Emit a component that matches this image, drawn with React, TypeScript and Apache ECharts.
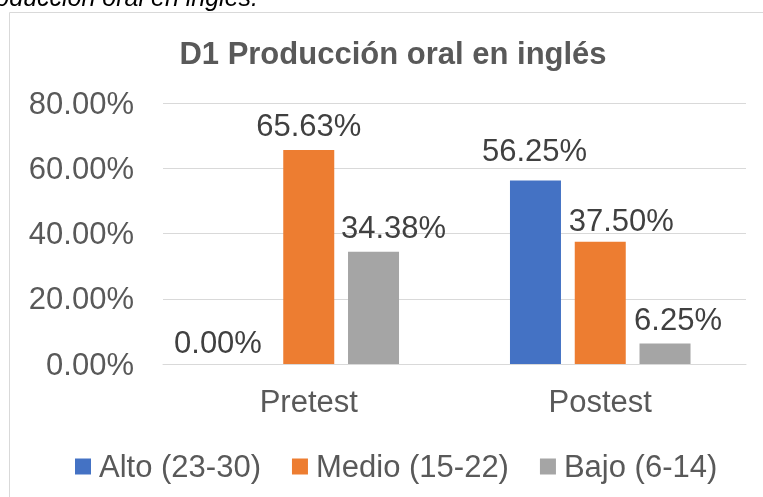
import React, { useEffect, useRef } from "react";
import * as echarts from "echarts";

const categories = ["Pretest", "Postest"];
const seriesNames = ["Alto (23-30)", "Medio (15-22)", "Bajo (6-14)"];
const alto = [0.0, 0.5625];
const medio = [0.6563, 0.375];
const bajo = [0.3438, 0.0625];
const yTicks = [0, 0.2, 0.4, 0.6, 0.8];

const colors = ["#4472C4", "#ED7D31", "#A5A5A5"];
// manual label nudges [dx, dy] per series per category (as in the source chart)
const labelOffsets = [
  [[-26, 3], [-1, -5]],
  [[0, 0], [21, 3]],
  [[20, 0], [13, 0]],
];

const FONT = "'Liberation Sans', Arial, sans-serif";

export default function App() {
  const ref = useRef<HTMLDivElement>(null);
  useEffect(() => {
    document.body.style.margin = "0";
    const chart = echarts.init(ref.current!, null, { renderer: "svg" });
    const all = [alto, medio, bajo];
    const fmt = (v: number) => (v * 100).toFixed(2) + "%";
    chart.setOption({
      animation: false,
      textStyle: { fontFamily: FONT },
      graphic: [
        {
          type: "rect",
          shape: { x: 9.5, y: 12.5, width: 900, height: 700 },
          style: { fill: "none", stroke: "#d9d9d9", lineWidth: 1 },
          silent: true,
        },
        {
          type: "text",
          x: 258,
          y: 9,
          style: {
            text: "Producción oral en inglés.",
            fontFamily: FONT,
            fontStyle: "italic",
            fontSize: 25,
            fill: "#000000",
            textAlign: "right",
            textVerticalAlign: "bottom",
          },
        },
        {
          type: "text",
          x: 393,
          y: 38,
          style: {
            text: "D1 Producción oral en inglés",
            fontFamily: FONT,
            fontWeight: "bold",
            fontSize: 31,
            fill: "#595959",
            textAlign: "center",
            textVerticalAlign: "top",
          },
        },
      ],
      legend: {
        left: 70,
        top: 446,
        icon: "rect",
        itemWidth: 16,
        itemHeight: 16,
        itemGap: 31,
        textStyle: { fontSize: 31, color: "#595959", fontFamily: FONT, padding: [0, 0, 0, 3] },
        data: seriesNames,
      },
      grid: { left: 163, right: 17, top: 103, bottom: 133, containLabel: false },
      xAxis: {
        type: "category",
        data: categories,
        axisLine: { lineStyle: { color: "#d9d9d9", width: 1 } },
        axisTick: { show: false },
        axisLabel: { fontSize: 31, color: "#595959", margin: 22, fontFamily: FONT },
      },
      yAxis: {
        type: "value",
        min: yTicks[0],
        max: yTicks[yTicks.length - 1],
        interval: 0.2,
        axisLine: { show: false },
        axisTick: { show: false },
        splitLine: { lineStyle: { color: "#d9d9d9", width: 1 } },
        axisLabel: {
          fontSize: 31,
          color: "#595959",
          margin: 29,
          fontFamily: FONT,
          formatter: (v: number) => fmt(v),
        },
      },
      series: seriesNames.map((name, i) => ({
        name,
        type: "bar",
        barWidth: 51,
        barGap: "27%",
        itemStyle: { color: colors[i] },
        label: {
          show: true,
          position: "top",
          distance: 9,
          fontSize: 31,
          color: "#404040",
          fontFamily: FONT,
          formatter: (p: any) => fmt(p.value),
        },
        data: all[i].map((v, j) => ({
          value: v,
          label: { offset: labelOffsets[i][j] },
        })),
      })),
    });
    return () => chart.dispose();
  }, []);
  return (
    <div
      ref={ref}
      style={{ position: "fixed", left: 0, top: 0, width: 763, height: 497 }}
    />
  );
}
